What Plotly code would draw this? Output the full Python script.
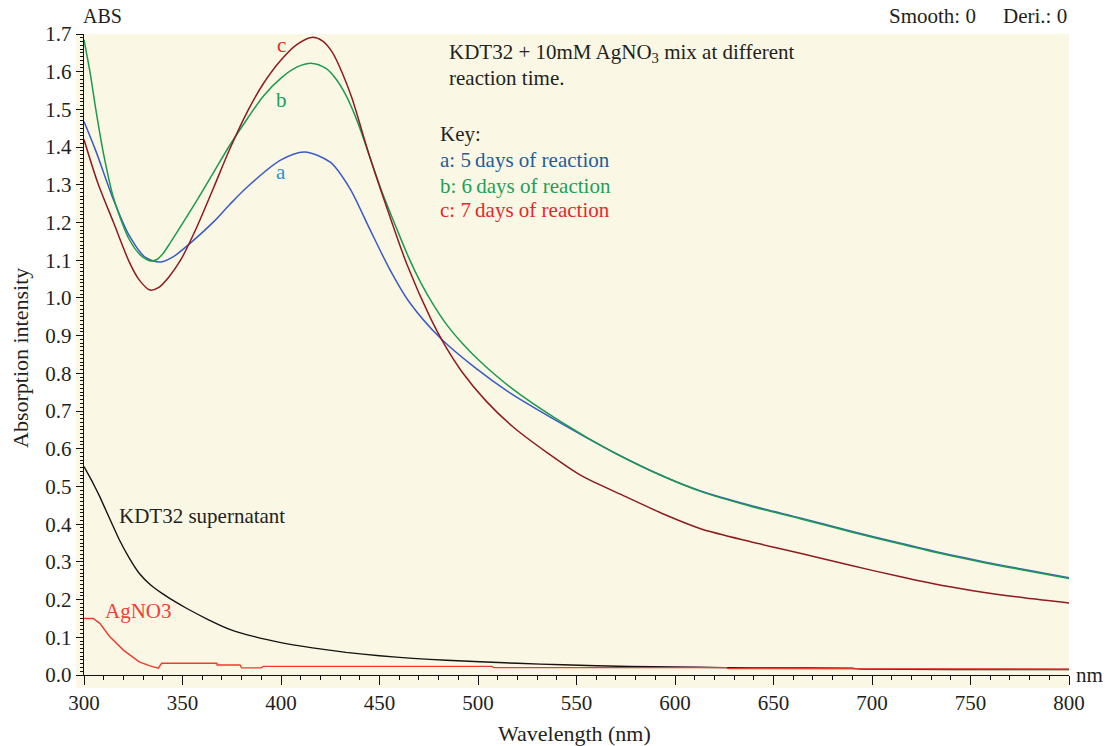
import plotly.graph_objects as go

# ---------------- data ----------------
wl_a = [300, 306, 315, 323, 331, 338.6, 345, 355, 366, 374, 383, 400, 412, 425, 435, 445,
        455, 465, 481, 498, 516, 542, 569, 594, 613, 638, 664, 689, 714, 735, 757, 778, 800]
abs_a = [1.468, 1.39, 1.26, 1.165, 1.108, 1.095, 1.108, 1.15, 1.203, 1.248, 1.295, 1.366,
         1.387, 1.36, 1.29, 1.183, 1.078, 0.99, 0.893, 0.817, 0.749, 0.668, 0.590, 0.527,
         0.488, 0.450, 0.416, 0.382, 0.350, 0.324, 0.300, 0.279, 0.258]

wl_b = [300, 303, 306, 310, 315, 323, 329, 334, 337, 340, 344, 349, 357, 366, 374, 383, 391,
        400, 408, 416, 423, 428, 433, 439, 445, 451, 459, 465, 471, 477, 484, 492, 501, 516,
        542, 569, 594, 613, 638, 664, 689, 714, 735, 757, 778, 800]
abs_b = [1.685, 1.60, 1.50, 1.38, 1.265, 1.155, 1.112, 1.098, 1.102, 1.117, 1.148, 1.189,
         1.256, 1.335, 1.405, 1.476, 1.535, 1.583, 1.612, 1.622, 1.608, 1.58, 1.537, 1.465,
         1.375, 1.285, 1.18, 1.105, 1.04, 0.985, 0.93, 0.88, 0.832, 0.765, 0.672, 0.590,
         0.527, 0.487, 0.448, 0.414, 0.380, 0.348, 0.322, 0.298, 0.277, 0.256]

wl_c = [300, 307, 315, 323, 328, 333.5, 338, 343, 349, 357, 366, 374, 383, 391, 400, 408,
        415.6, 421, 426, 431, 436, 445, 454, 464, 476, 483, 492, 504, 518, 535, 552, 575,
        595, 613, 638, 663.5, 689, 714, 735, 757, 778, 800]
abs_c = [1.42, 1.305, 1.20, 1.095, 1.048, 1.021, 1.028, 1.055, 1.10, 1.185, 1.295, 1.395,
         1.495, 1.568, 1.631, 1.672, 1.691, 1.682, 1.652, 1.598, 1.530, 1.375, 1.235, 1.088,
         0.945, 0.876, 0.803, 0.727, 0.657, 0.590, 0.530, 0.473, 0.425, 0.388, 0.354, 0.323,
         0.291, 0.261, 0.238, 0.219, 0.204, 0.191]

wl_sup = [300, 304, 308, 313, 318, 323, 328, 334, 340, 346, 352, 363, 374, 387, 400, 416,
          433, 450, 467, 484, 501, 520, 543, 577, 600, 625, 652, 690, 694, 790, 800]
abs_sup = [0.553, 0.515, 0.473, 0.415, 0.358, 0.31, 0.27, 0.238, 0.215, 0.195, 0.177, 0.147,
           0.121, 0.101, 0.086, 0.072, 0.060, 0.051, 0.044, 0.039, 0.035, 0.031, 0.027,
           0.0225, 0.0215, 0.0195, 0.0185, 0.018, 0.0155, 0.0145, 0.0145]

wl_ag = [300, 304.7, 308, 313, 320, 328, 333.5, 337.7, 339.4, 367.4, 367.6, 379.2, 380,
         390, 391, 507, 508, 626, 627, 692, 693, 800]
abs_ag = [0.150, 0.150, 0.137, 0.102, 0.066, 0.035, 0.024, 0.018, 0.031, 0.031, 0.0265,
          0.0265, 0.019, 0.019, 0.023, 0.023, 0.0195, 0.0195, 0.017, 0.017, 0.0155, 0.0155]

y_ticks = [round(i * 0.1, 1) for i in range(18)]
x_ticks = [300, 350, 400, 450, 500, 550, 600, 650, 700, 750, 800]

# ---------------- figure ----------------
SERIF = "Liberation Serif"
TXT = "#231F20"
L, R, T, B = 84, 38, 34, 71
W, H = 1107, 746
PW, PH = W - L - R, H - T - B


def px(xp):
    return (xp - L) / PW


def py(yp):
    return (H - B - yp) / PH


fig = go.Figure()
fig.add_trace(go.Scatter(x=wl_sup, y=abs_sup, mode="lines",
                         line=dict(color="#141414", width=1.4, shape="spline", smoothing=0.4)))
fig.add_trace(go.Scatter(x=wl_ag, y=abs_ag, mode="lines",
                         line=dict(color="#F03A2F", width=1.4)))
fig.add_trace(go.Scatter(x=wl_a, y=abs_a, mode="lines",
                         line=dict(color="#3A5BC7", width=1.5, shape="spline", smoothing=0.8)))
fig.add_trace(go.Scatter(x=wl_b, y=abs_b, mode="lines",
                         line=dict(color="#1E9950", width=1.5, shape="spline", smoothing=0.8)))
fig.add_trace(go.Scatter(x=wl_c, y=abs_c, mode="lines",
                         line=dict(color="#8E1B1F", width=1.5, shape="spline", smoothing=0.8)))

fig.update_layout(
    width=W, height=H,
    margin=dict(l=L, r=R, t=T, b=B, pad=0),
    paper_bgcolor="white",
    plot_bgcolor="rgba(0,0,0,0)",
    showlegend=False,
    font=dict(family=SERIF, size=21, color=TXT),
)

fig.add_shape(type="rect", xref="paper", yref="paper",
              x0=px(76), x1=1, y0=py(688), y1=1,
              fillcolor="#FAF8E4", line_width=0, layer="below")

fig.update_xaxes(
    range=[300, 800], tickvals=x_ticks, ticktext=[str(v) for v in x_ticks],
    ticks="outside", ticklen=9, tickwidth=1.3, tickcolor="#111",
    showline=True, linecolor="#111", linewidth=1.4,
    showgrid=False, zeroline=False,
    minor=dict(dtick=10, tick0=300, ticks="outside", ticklen=4, tickwidth=1, tickcolor="#111",
               showgrid=False),
    tickfont=dict(family=SERIF, size=21, color=TXT),
)
fig.update_yaxes(
    range=[0, 1.7], tickvals=y_ticks, ticktext=[f"{v:.1f}" for v in y_ticks],
    ticks="outside", ticklen=7, tickwidth=1.3, tickcolor="#111",
    showline=True, linecolor="#111", linewidth=1.4,
    showgrid=False, zeroline=False,
    minor=dict(dtick=0.01, tick0=0, ticks="outside", ticklen=3, tickwidth=1, tickcolor="#111",
               showgrid=False),
    tickfont=dict(family=SERIF, size=21, color=TXT),
)

ann = []


def add(text, x, y, color=TXT, size=21, xanchor="left", yanchor="middle", angle=0):
    ann.append(dict(text=text, x=x, y=y, xref="paper", yref="paper", showarrow=False,
                    xanchor=xanchor, yanchor=yanchor, textangle=angle,
                    font=dict(family=SERIF, size=size, color=color)))


add("ABS", px(81), py(16), size=20)
add("Smooth: 0", px(887), py(16), size=21)
add("Deri.: 0", px(1069), py(16), size=21, xanchor="right")
add("nm", px(1074), py(675), size=21)
add("Wavelength (nm)", px(574), py(733), size=22, xanchor="center")
add("Absorption intensity", px(20), py(358), size=22, xanchor="center", angle=-90)

add("KDT32 + 10mM AgNO<sub>3</sub> mix at different", px(447), py(53))
add("reaction time.", px(447), py(78))
add("Key:", px(438), py(134))
add("a: 5\u2009days of reaction", px(438), py(160), color="#1F5C99")
add("b: 6\u2009days of reaction", px(438), py(186), color="#1BA05A")
add("c: 7\u2009days of reaction", px(438), py(210), color="#E8262B")

add("c", px(281), py(45), color="#E8262B", xanchor="center")
add("b", px(281), py(100), color="#1BA05A", xanchor="center")
add("a", px(281), py(172), color="#2E8FD5", xanchor="center")

add("KDT32 supernatant", px(117), py(516))
add("AgNO3", px(103), py(611), color="#EE4036")

fig.update_layout(annotations=ann)

fig.write_html("out.html")
